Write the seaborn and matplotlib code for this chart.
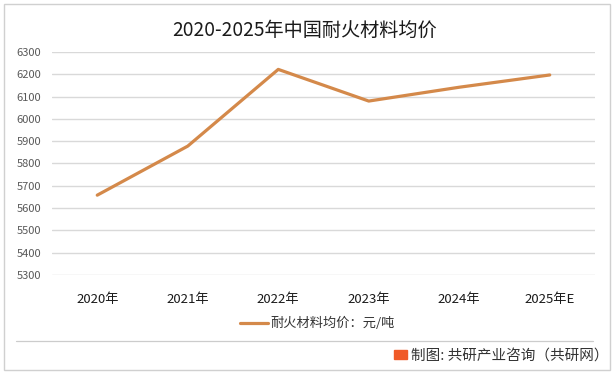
import matplotlib
matplotlib.use("Agg")
import matplotlib.pyplot as plt
from matplotlib.patches import Rectangle
import seaborn as sns
import pandas as pd

years = ["2020年", "2021年", "2022年", "2023年", "2024年", "2025年E"]
prices = [5658, 5878, 6222, 6080, 6142, 6197]
series_name = "耐火材料均价：元/吨"
title = "2020-2025年中国耐火材料均价"
yticks = list(range(5300, 6301, 100))

df = pd.DataFrame({"year": years, "price": prices, "series": series_name})

sns.set_theme(style="white")
plt.rcParams["font.family"] = ["Noto Sans CJK SC", "DejaVu Sans"]

fig = plt.figure(figsize=(6.16, 3.76), dpi=100)
W, H = 616, 376
ax = fig.add_axes([52 / W, 1 - 275 / H, (595 - 52) / W, (275 - 52) / H])

sns.lineplot(data=df, x=range(len(years)), y="price", ax=ax, color="#D4894A",
             linewidth=2.3, legend=False, sort=False)

ax.set_xlim(-0.5, len(years) - 0.5)
ax.set_ylim(5300, 6300)
ax.set_yticks(yticks)
ax.set_yticklabels([str(v) for v in yticks], fontsize=8, color="#595959")
ax.set_xticks(range(len(years)))
ax.set_xticklabels(years, fontsize=9.5, color="#1a1a1a")
ax.tick_params(axis="x", length=0, pad=13)
ax.tick_params(axis="y", length=0, pad=8)
ax.grid(axis="y", color="#d9d9d9", linewidth=1)
ax.set_axisbelow(True)
for s in ax.spines.values():
    s.set_visible(False)
ax.set_xlabel("")
ax.set_ylabel("")

fig.text(305 / W, 1 - 30 / H, title, ha="center", va="center",
         fontsize=13.8, color="#1a1a1a")

# legend
fig.add_artist(plt.Line2D([240 / W, 268 / W], [1 - 323 / H, 1 - 323 / H],
                          color="#D4894A", linewidth=2.3))
fig.text(270 / W, 1 - 323 / H, series_name, ha="left", va="center",
         fontsize=9.5, color="#333333")

# separator and footer
fig.add_artist(plt.Line2D([16 / W, 593 / W], [1 - 341 / H, 1 - 341 / H],
                          color="#cccccc", linewidth=0.9))
fig.add_artist(Rectangle((394 / W, 1 - 359 / H), 13 / W, 9 / H,
                         transform=fig.transFigure, color="#F05A28"))
fig.text(411 / W, 1 - 356 / H, "制图: 共研产业咨询（共研网）", ha="left", va="center",
         fontsize=10.5, color="#333333")

# outer border
fig.add_artist(Rectangle((4 / W, 6 / H), 606 / W, 366 / H, transform=fig.transFigure,
                         fill=False, edgecolor="#d0d0d0", linewidth=1))

fig.savefig("out.png", dpi=100)
